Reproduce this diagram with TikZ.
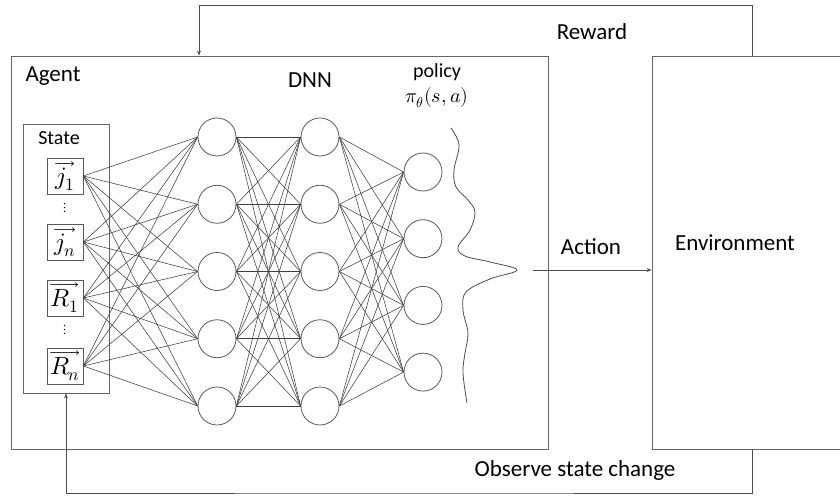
\documentclass[tikz,border=0pt]{standalone}
\usepackage{fontspec}
\usepackage{unicode-math}
\setmainfont{Carlito}
\setmathfont{Latin Modern Math}
\usetikzlibrary{arrows.meta}

\begin{document}
\begin{tikzpicture}[x=1pt, y=-1pt,
  frame/.style={draw=black!60, line width=0.9pt, minimum width=#1, inner sep=0pt},
  neuron/.style={circle, draw=black!65, line width=0.8pt, minimum size=38pt, inner sep=0pt},
  inbox/.style={draw=black!65, line width=0.8pt, minimum width=36pt, minimum height=36pt, inner sep=0pt, font=\fontsize{25}{26}\selectfont},
  wire/.style={draw=black!75, line width=0.55pt},
  flow/.style={draw=black!70, line width=0.8pt, -{Stealth[length=5pt,width=4pt]}},
  lbl/.style={font=\fontsize{23}{26}\selectfont},
  small/.style={font=\fontsize{20}{22}\selectfont},
  vdot/.style={inner sep=0pt, font=\fontsize{14}{15}\selectfont}]

\useasboundingbox (0,0) rectangle (840,497);

% Agent and environment
\node[frame=537pt, minimum height=393pt] (agent) at (279.5,252.5) {};
\node[frame=200pt, minimum height=393pt] (env) at (752,252.5) {};
\node[lbl, anchor=west] (agentlbl) at (22,76) {Agent};
\node[lbl] (envlbl) at (735,243) {Environment};

% State vector
\node[frame=86pt, minimum height=269pt] (state) at (66,258.5) {};
\node[small] (statelbl) at (59,138) {State};
\node[inbox] (in1) at (65,176) {$\overrightarrow{j_1}$};
\node[vdot] (dots1) at (65,208) {$\vdots$};
\node[inbox] (in2) at (65,242) {$\overrightarrow{j_n}$};
\node[inbox] (in3) at (65,298) {$\overrightarrow{R_1}$};
\node[vdot] (dots2) at (65,330) {$\vdots$};
\node[inbox] (in4) at (65,366) {$\overrightarrow{R_n}$};

% DNN layers
\foreach \j in {1,...,5} {
  \node[neuron] (ha\j) at (217,{137+67.25*(\j-1)}) {};
  \node[neuron] (hb\j) at (320,{137+67.25*(\j-1)}) {};
}
\foreach \k in {1,...,4}
  \node[neuron] (out\k) at (423,{172+66.7*(\k-1)}) {};

\foreach \i in {1,...,4}
  \foreach \j in {1,...,5}
    \draw[wire] (in\i.east) -- (ha\j.west);
\foreach \i in {1,...,5}
  \foreach \j in {1,...,5}
    \draw[wire] (ha\i.east) -- (hb\j.west);
\foreach \i in {1,...,5}
  \foreach \k in {1,...,4}
    \draw[wire] (hb\i.east) -- (out\k.west);

\node[lbl] (dnnlbl) at (310,80) {DNN};
\node[small] (policylbl) at (437,72) {policy};
\node[small] (pilbl) at (437,98) {$\pi_\theta(s,a)$};

% policy distribution
\draw[black!70, line width=0.8pt] plot[smooth, tension=0.6] coordinates {
  (451,128) (459,145) (454,170) (456,187) (468,200) (475,212) (470,230)
  (458,247) (465,256) (490,262) (517,270) (490,279) (466,292) (463,310)
  (468,333) (465,353) (463,373) (467,403)};

% loop between agent and environment
\coordinate (act) at (533,270);
\coordinate (rw) at (199,5);
\coordinate (obs) at (400,493);
\draw[flow] (act) -- (act -| env.west);
\node[lbl] (actlbl) at (591,247) {Action};
\draw[flow] (env.north) |- (rw) -- (rw |- agent.north);
\node[lbl] (rwlbl) at (592,32) {Reward};
\draw[flow] (env.south) |- (obs) -| (state.south);
\node[lbl] (obslbl) at (575,470) {Observe state change};

\end{tikzpicture}
\end{document}
